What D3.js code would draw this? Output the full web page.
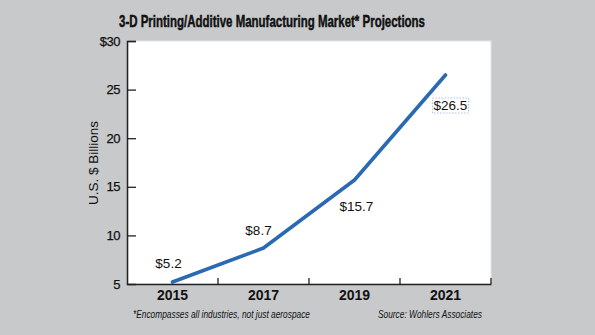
<!DOCTYPE html>
<html>
<head>
<meta charset="utf-8">
<script src="https://cdn.jsdelivr.net/npm/d3@7"></script>
<style>
  html, body { margin: 0; padding: 0; background: #c8c9cb; }
  svg { display: block; }
  text { font-family: "Liberation Sans", Arial, Helvetica, sans-serif; fill: #111; }
</style>
</head>
<body>
<svg id="chart" width="595" height="335"></svg>
<script>
const years = ["2015", "2017", "2019", "2021"];
const values = [5.2, 8.7, 15.7, 26.5];
const valueLabels = ["$5.2", "$8.7", "$15.7", "$26.5"];
const yTicks = [5, 10, 15, 20, 25, 30];
const yTickLabels = ["5", "10", "15", "20", "25", "$30"];
const title = "3-D Printing/Additive Manufacturing Market* Projections";
const yTitle = "U.S. $ Billions";
const footnote = "*Encompasses all industries, not just aerospace";
const source = "Source:  Wohlers Associates";

// label placement relative to point (layout only)
const labelOffsets = [[-4, -14], [-5, -13], [2, 31], [5, 35]];

const W = 595, H = 335;
const plot = { left: 127, right: 491, top: 41, bottom: 284 };
const svg = d3.select("#chart");

svg.append("rect").attr("width", W).attr("height", H).attr("fill", "#c8c9cb");
svg.append("rect")
  .attr("x", plot.left).attr("y", plot.top)
  .attr("width", plot.right - plot.left).attr("height", plot.bottom - plot.top)
  .attr("fill", "#ffffff").attr("stroke", "#e4e4e6").attr("stroke-width", 1);

const x = d3.scaleBand().domain(years).range([plot.left, plot.right]).padding(0);
const y = d3.scaleLinear().domain([5, 30]).range([plot.bottom, plot.top]);

// Title
svg.append("text")
  .attr("x", 272).attr("y", 27)
  .attr("text-anchor", "middle")
  .attr("font-family", "'Liberation Sans Narrow', 'DejaVu Sans Condensed', Arial, sans-serif")
  .attr("font-weight", "bold").attr("font-size", 17)
  .attr("stroke", "#111").attr("stroke-width", 0.5)
  .attr("textLength", 306).attr("lengthAdjust", "spacingAndGlyphs")
  .text(title);

// Y axis
const yAxis = d3.axisRight(y).tickValues(yTicks).tickSize(9)
  .tickFormat(d => yTickLabels[yTicks.indexOf(d)]);
const gy = svg.append("g").attr("transform", `translate(${plot.left},0)`).call(yAxis);
gy.select(".domain").attr("stroke", "#222").attr("stroke-width", 1.6);
gy.selectAll(".tick line").attr("stroke", "#222").attr("stroke-width", 1.3);
gy.selectAll(".tick text")
  .attr("x", -7).attr("text-anchor", "end")
  .attr("font-size", 13).attr("fill", "#111")
  .attr("stroke", "#111").attr("stroke-width", 0.25)
  .attr("letter-spacing", -0.5)
  .attr("font-family", "'Liberation Sans', Arial, sans-serif");
gy.selectAll(".tick").filter(d => d === 5).select("line").remove();

// X axis: labels centered in bands, ticks at band boundaries
const xAxis = d3.axisBottom(x).tickSize(0).tickPadding(6);
const gx = svg.append("g").attr("transform", `translate(0,${plot.bottom})`).call(xAxis);
gx.select(".domain").attr("stroke", "#222").attr("stroke-width", 1.6);
gx.selectAll(".tick text")
  .attr("font-size", 14).attr("font-weight", "bold").attr("fill", "#111")
  .attr("font-family", "'Liberation Sans', Arial, sans-serif");
svg.append("g").selectAll("line")
  .data(years)
  .join("line")
  .attr("x1", d => x(d) + x.bandwidth()).attr("x2", d => x(d) + x.bandwidth())
  .attr("y1", plot.bottom).attr("y2", plot.bottom - 6)
  .attr("stroke", "#222").attr("stroke-width", 1.3);

// Y axis title
svg.append("text")
  .attr("transform", `translate(98,163) rotate(-90)`)
  .attr("text-anchor", "middle")
  .attr("font-size", 13.5)
  .text(yTitle);

// Line
const pts = years.map((yr, i) => ({ yr, v: values[i], lab: valueLabels[i], off: labelOffsets[i] }));
const line = d3.line().x(d => x(d.yr) + x.bandwidth() / 2).y(d => y(d.v));
svg.append("path").datum(pts)
  .attr("d", line)
  .attr("fill", "none").attr("stroke", "#2a69b4")
  .attr("stroke-width", 3.6).attr("stroke-linecap", "round").attr("stroke-linejoin", "round");

// selection-like dotted box around last label
const last = pts[pts.length - 1];
const lx = x(last.yr) + x.bandwidth() / 2 + last.off[0];
const ly = y(last.v) + last.off[1];
svg.append("rect")
  .attr("x", lx - 18).attr("y", ly - 12)
  .attr("width", 36).attr("height", 15)
  .attr("fill", "none").attr("stroke", "#9db3dd").attr("stroke-width", 0.8)
  .attr("stroke-dasharray", "1.5,1.5");

// Value labels
svg.append("g").selectAll("text").data(pts).join("text")
  .attr("x", d => x(d.yr) + x.bandwidth() / 2 + d.off[0])
  .attr("y", d => y(d.v) + d.off[1])
  .attr("text-anchor", "middle")
  .attr("font-size", 13.5)
  .text(d => d.lab);

// Footnotes
svg.append("text")
  .attr("x", 133).attr("y", 317.5)
  .attr("font-family", "'Liberation Sans Narrow', 'DejaVu Sans Condensed', Arial, sans-serif")
  .attr("font-style", "italic").attr("font-size", 11.5)
  .attr("textLength", 177).attr("lengthAdjust", "spacingAndGlyphs")
  .attr("fill", "#222")
  .text(footnote);
svg.append("text")
  .attr("x", 378).attr("y", 317.5)
  .attr("font-family", "'Liberation Sans Narrow', 'DejaVu Sans Condensed', Arial, sans-serif")
  .attr("font-style", "italic").attr("font-size", 11.5)
  .attr("textLength", 104).attr("lengthAdjust", "spacingAndGlyphs")
  .attr("fill", "#222")
  .text(source);
</script>
</body>
</html>
